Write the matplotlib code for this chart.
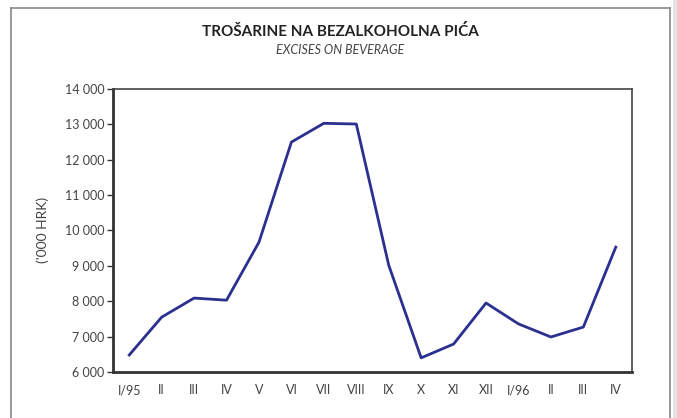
import matplotlib
matplotlib.use("Agg")
import matplotlib.pyplot as plt
from matplotlib.patches import Rectangle
from matplotlib.lines import Line2D
from matplotlib.ticker import FuncFormatter

months = ["I/95", "II", "III", "IV", "V", "VI", "VII", "VIII", "IX", "X", "XI", "XII",
          "I/96", "II", "III", "IV"]
values = [6480, 7550, 8090, 8030, 9670, 12500, 13030, 13010, 9020, 6400, 6790, 7950,
          7360, 6990, 7270, 9530]
yticks = [6000, 7000, 8000, 9000, 10000, 11000, 12000, 13000, 14000]

plt.rcParams['font.family'] = ['Lato', 'DejaVu Sans']
txt = '#444444'

fig = plt.figure(figsize=(6.77, 4.18), dpi=100)
W, H = 677, 418

# outer frame
fig.add_artist(Line2D([11/W, 11/W], [0, 1-8/H], transform=fig.transFigure, color='#888888', lw=1.2))
fig.add_artist(Line2D([11/W, 670/W], [1-8/H, 1-8/H], transform=fig.transFigure, color='#888888', lw=1.2))
fig.add_artist(Line2D([670/W, 670/W], [0, 1-8/H], transform=fig.transFigure, color='#888888', lw=1.2))
fig.add_artist(Rectangle((673/W, 0), 4/W, 1, transform=fig.transFigure, color='#e4e4e4', lw=0))

ax = fig.add_axes([113/W, 1-372/H, (632-113)/W, (372-89)/H])
x = list(range(len(months)))
ax.plot(x, values, color='#2b2f8f', lw=2.0)
ax.set_xlim(-0.5, len(months)-0.5)
ax.set_ylim(6000, 14000)
ax.set_yticks(yticks)
ax.yaxis.set_major_formatter(FuncFormatter(lambda v, p: f"{int(v):,}".replace(",", " ")))
ax.set_xticks(x)
ax.set_xticklabels(months)
ax.tick_params(axis='x', length=0, pad=9, labelsize=9, labelcolor=txt)
ax.tick_params(axis='y', length=4, width=1, color='#333333', pad=2, labelsize=9, labelcolor=txt)
for s in ['left', 'bottom']:
    ax.spines[s].set_linewidth(2.0)
    ax.spines[s].set_color('#333333')
for s in ['top', 'right']:
    ax.spines[s].set_linewidth(1.2)
    ax.spines[s].set_color('#444444')

fig.text(340/W, 1-32/H, "TROŠARINE NA BEZALKOHOLNA PIĆA", ha='center', va='center',
         fontsize=11, fontweight='bold', color='#222222')
fig.text(340/W, 1-50/H, "EXCISES ON BEVERAGE", ha='center', va='center',
         fontsize=9, style='italic', color=txt)
fig.text(43/W, 1-230/H, "('000 HRK)", ha='center', va='center', rotation=90,
         fontsize=10, color=txt)

fig.savefig("out.png", dpi=100)
